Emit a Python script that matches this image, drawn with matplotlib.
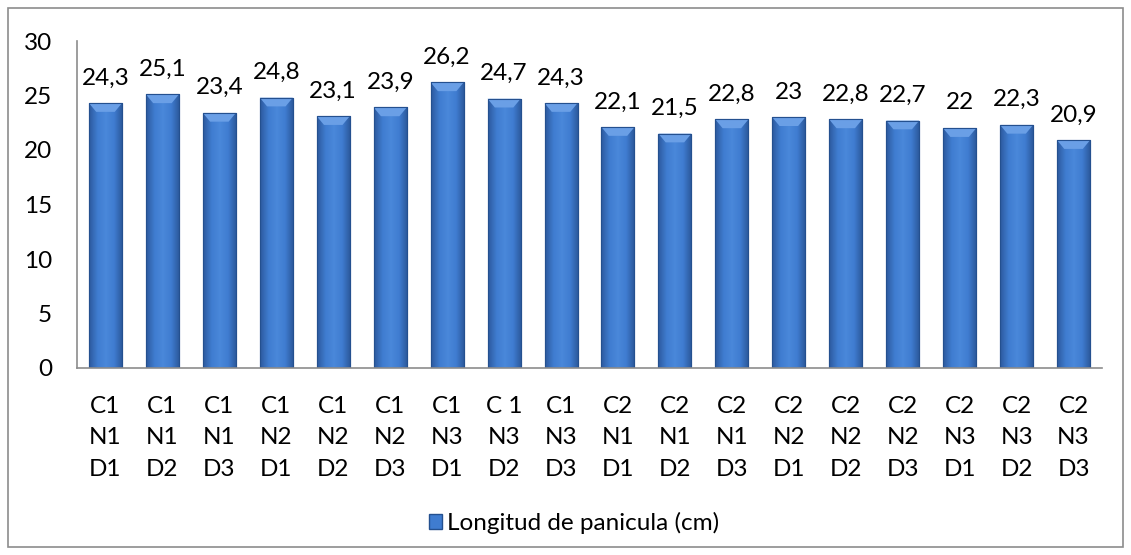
import matplotlib
matplotlib.use("Agg")
import matplotlib.pyplot as plt
import numpy as np
from matplotlib.patches import Polygon, Rectangle
from matplotlib.colors import LinearSegmentedColormap

categories = ["C1\nN1\nD1", "C1\nN1\nD2", "C1\nN1\nD3", "C1\nN2\nD1", "C1\nN2\nD2",
              "C1\nN2\nD3", "C1\nN3\nD1", "C 1\nN3\nD2", "C1\nN3\nD3", "C2\nN1\nD1",
              "C2\nN1\nD2", "C2\nN1\nD3", "C2\nN2\nD1", "C2\nN2\nD2", "C2\nN2\nD3",
              "C2\nN3\nD1", "C2\nN3\nD2", "C2\nN3\nD3"]
values = [24.3, 25.1, 23.4, 24.8, 23.1, 23.9, 26.2, 24.7, 24.3,
          22.1, 21.5, 22.8, 23.0, 22.8, 22.7, 22.0, 22.3, 20.9]
labels = ["24,3", "25,1", "23,4", "24,8", "23,1", "23,9", "26,2", "24,7", "24,3",
          "22,1", "21,5", "22,8", "23", "22,8", "22,7", "22", "22,3", "20,9"]
series_name = "Longitud de panicula (cm)"
yticks = [0, 5, 10, 15, 20, 25, 30]

plt.rcParams['font.family'] = ['Lato', 'DejaVu Sans']
FS = 17.5

fig = plt.figure(figsize=(11.31, 5.55), dpi=100)
fig.patch.set_facecolor("white")
# outer chart border
fig.add_artist(Rectangle((8 / 1131, 8 / 555), 1115 / 1131, 539 / 555,
                         transform=fig.transFigure, fill=False,
                         edgecolor="#8c8c8c", linewidth=1.2))

ax = fig.add_axes([77 / 1131, 1 - 368 / 555, (1102 - 77) / 1131, (368 - 41) / 555])
x = np.arange(len(values))
width = 0.58
bars = ax.bar(x, values, width=width, color="#3a6fbf", edgecolor="#2a5596",
              linewidth=0.8, zorder=2, label=series_name)

# horizontal shading across each bar
cmap = LinearSegmentedColormap.from_list(
    "barshade", ["#2d5a9e", "#3f7cd0", "#4a88da", "#3f7cd0", "#2b5799"])
grad = np.linspace(0, 1, 64).reshape(1, -1)
for b in bars:
    x0, w, h = b.get_x(), b.get_width(), b.get_height()
    im = ax.imshow(grad, extent=[x0, x0 + w, 0, h], aspect="auto",
                   cmap=cmap, zorder=2.1, origin="lower")
    im.set_clip_path(b)
    # bevelled top cap
    cap = 0.8
    ax.add_patch(Polygon([[x0, h], [x0 + w, h], [x0 + w * 0.78, h - cap],
                          [x0 + w * 0.22, h - cap]], closed=True,
                         facecolor="#6a9fe6", edgecolor="none", zorder=2.2))
    ax.add_patch(Rectangle((x0, 0), w, h, fill=False, edgecolor="#24508f",
                           linewidth=0.8, zorder=2.3))

for xi, v, lab in zip(x, values, labels):
    ax.annotate(lab, (xi, v), xytext=(0, 13.5), textcoords="offset points",
                ha="center", va="baseline", fontsize=FS, color="black", zorder=3)

ax.set_xlim(-0.5, len(values) - 0.5)
ax.set_ylim(0, 30)
ax.set_yticks(yticks)
ax.set_yticklabels([str(t) for t in yticks], fontsize=FS)
ax.set_xticks(x)
ax.set_xticklabels(categories, fontsize=FS, linespacing=1.62)
ax.tick_params(axis="y", length=0, pad=18)
ax.tick_params(axis="x", length=0, pad=20)
for side in ["top", "right"]:
    ax.spines[side].set_visible(False)
for side in ["left", "bottom"]:
    ax.spines[side].set_color("#8c8c8c")
    ax.spines[side].set_linewidth(1.2)

leg = fig.legend(handles=[Rectangle((0, 0), 1, 1, facecolor="#3f7cd0",
                                    edgecolor="#24508f")],
                 labels=[series_name], loc="center",
                 bbox_to_anchor=(574 / 1131, 1 - 523 / 555), frameon=False,
                 fontsize=FS, handlelength=0.55, handleheight=0.55,
                 handletextpad=0.2)

fig.savefig("out.png", dpi=100, facecolor="white")
